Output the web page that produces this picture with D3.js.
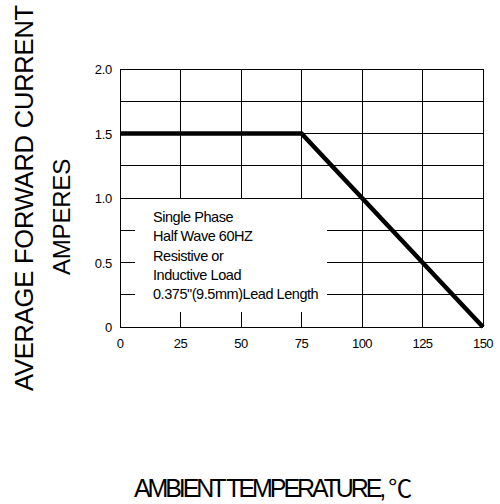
<!DOCTYPE html>
<html><head><meta charset="utf-8">
<script src="https://cdn.jsdelivr.net/npm/d3@7"></script>
<style>body{margin:0;background:#fff}svg{display:block}text{font-family:"Liberation Sans",Arial,sans-serif;fill:#000}</style>
</head><body>
<script>
const temps = [0, 75, 150];
const current = [1.5, 1.5, 0];
const xTicks = [0, 25, 50, 75, 100, 125, 150];
const yTicks = [0, 0.5, 1.0, 1.5, 2.0];
const yTickLabels = ["0", "0.5", "1.0", "1.5", "2.0"];
const yGrid = [0.25, 0.5, 0.75, 1.0, 1.25, 1.5, 1.75, 2.0];
const noteLines = ["Single Phase", "Half Wave 60HZ", "Resistive or", "Inductive Load", "0.375\"(9.5mm)Lead Length"];

const W = 500, H = 504;
const svg = d3.select("body").append("svg").attr("width", W).attr("height", H);
const x = d3.scaleLinear().domain([0, 150]).range([120, 483]);
const y = d3.scaleLinear().domain([0, 2]).range([327, 69]);

const g = svg.append("g");
// grid
g.selectAll("line.v").data(xTicks).join("line")
  .attr("x1", d => x(d)).attr("x2", d => x(d)).attr("y1", y(0)).attr("y2", y(2))
  .attr("stroke", "#000").attr("stroke-width", 1).attr("shape-rendering", "crispEdges");
g.selectAll("line.h").data([0].concat(yGrid)).join("line")
  .attr("x1", x(0)).attr("x2", x(150)).attr("y1", d => y(d)).attr("y2", d => y(d))
  .attr("stroke", "#000").attr("stroke-width", 1).attr("shape-rendering", "crispEdges");

// note box (white, covering the grid)
g.append("rect").attr("x", 135).attr("y", y(1.0) + 1).attr("width", 192).attr("height", 113)
  .attr("fill", "#fff");
g.append("g").selectAll("text").data(noteLines).join("text")
  .attr("x", 153).attr("y", (d, i) => 222 + i * 19.3)
  .attr("font-size", 14.5).attr("letter-spacing", "-0.45px")
  .text(d => d);

// data line
const line = d3.line().x((d, i) => x(temps[i])).y(d => y(d));
g.append("path").datum(current).attr("d", line)
  .attr("fill", "none").attr("stroke", "#000").attr("stroke-width", 4.5).attr("stroke-linejoin", "miter");

// tick labels
g.selectAll("text.xt").data(xTicks).join("text")
  .attr("x", d => x(d)).attr("y", 348).attr("text-anchor", "middle")
  .attr("font-size", 13).attr("letter-spacing", "-0.6px").text(d => d);
g.selectAll("text.yt").data(yTicks).join("text")
  .attr("x", 112).attr("y", d => y(d) + 5).attr("text-anchor", "end")
  .attr("font-size", 13).attr("letter-spacing", "-0.3px").text((d, i) => yTickLabels[i]);

// axis titles
svg.append("text").attr("transform", "translate(33,198) rotate(-90)")
  .attr("text-anchor", "middle").attr("font-size", 25.5).attr("letter-spacing", "-0.2px")
  .text("AVERAGE FORWARD CURRENT");
svg.append("text").attr("transform", "translate(70,217) rotate(-90)")
  .attr("text-anchor", "middle").attr("font-size", 24).attr("letter-spacing", "-0.2px")
  .text("AMPERES");
const xt = svg.append("text").attr("x", 134).attr("y", 497).attr("font-size", 25)
  .attr("letter-spacing", "-3.1px");
xt.append("tspan").text("AMBIENT TEMPERATURE,");
xt.append("tspan").attr("dx", 5).attr("font-size", 24).attr("letter-spacing", "0px")
  .attr("font-family", "Noto Sans CJK SC").text("℃");
</script>
</body></html>
